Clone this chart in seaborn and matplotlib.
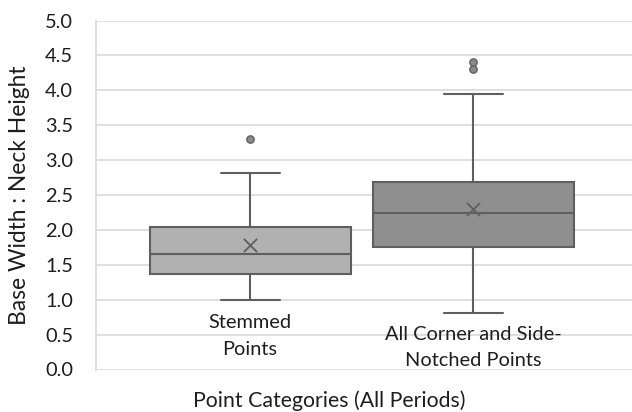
import matplotlib
matplotlib.use("Agg")
import matplotlib.pyplot as plt
import seaborn as sns
import pandas as pd

# Five-number summaries per point category
categories = ["Stemmed\nPoints", "All Corner and Side-\nNotched Points"]
whisker_low = [0.99, 0.81]
q1 = [1.37, 1.76]
median = [1.66, 2.24]
q3 = [2.04, 2.69]
whisker_high = [2.82, 3.94]
mean = [1.78, 2.30]

# Outlying values
outlier_cat = [0, 1, 1]
outlier_val = [3.30, 4.30, 4.40]

y_ticks = [0.0, 0.5, 1.0, 1.5, 2.0, 2.5, 3.0, 3.5, 4.0, 4.5, 5.0]

fill_colors = ["#b1b1b1", "#8f8f8f"]
edge_color = "#5f5f5f"
text_color = "#1e1e1e"

sns.set_theme(style="white")
plt.rcParams["font.family"] = ["Lato", "DejaVu Sans"]

fig = plt.figure(figsize=(6.32, 4.12), dpi=100)
ax = fig.add_axes([96 / 632, 1 - 369.5 / 412, 536 / 632, 349 / 412])

for yv in y_ticks:
    ax.axhline(yv, color="#d9d9d9", lw=1.2, zorder=0)

stats = []
for i in range(len(categories)):
    stats.append(dict(whislo=whisker_low[i], q1=q1[i], med=median[i],
                      q3=q3[i], whishi=whisker_high[i], fliers=[]))

bp = ax.bxp(stats, positions=[0, 1], widths=0.9, capwidths=0.265,
            showfliers=False, patch_artist=True,
            boxprops=dict(edgecolor=edge_color, linewidth=1.5),
            medianprops=dict(color=edge_color, linewidth=1.5),
            whiskerprops=dict(color=edge_color, linewidth=1.5),
            capprops=dict(color=edge_color, linewidth=1.5),
            zorder=2)
for patch, c in zip(bp["boxes"], fill_colors):
    patch.set_facecolor(c)

means_df = pd.DataFrame({"pos": [0, 1], "mean": mean})
sns.scatterplot(data=means_df, x="pos", y="mean", marker="x", s=90,
                color=edge_color, linewidth=1.3, ax=ax, zorder=3, legend=False)

out_df = pd.DataFrame({"pos": outlier_cat, "val": outlier_val})
sns.scatterplot(data=out_df, x="pos", y="val", marker="o", s=28,
                color="#8a8a8a", edgecolor="#606060", linewidth=1.0,
                ax=ax, zorder=3, legend=False)

# Category names sit inside the plot, under each box (one baseline per line)
label_baselines = [[0.595, 0.208], [0.423, 0.050]]
for i, name in enumerate(categories):
    for line, yb in zip(name.split("\n"), label_baselines[i]):
        ax.text(i, yb, line, ha="center", va="baseline", fontsize=14.4,
                color=text_color, zorder=4)

ax.set_xlim(-0.69, 1.71)
ax.set_ylim(0, 5.0)
ax.set_yticks(y_ticks)
ax.set_yticklabels([f"{v:.1f}" for v in y_ticks], fontsize=14.4, color=text_color)
ax.set_xticks([])
ax.tick_params(axis="y", length=0, pad=16.5)
ax.set_xlabel("")
ax.set_ylabel("Base Width : Neck Height", fontsize=16.4, color=text_color, labelpad=11)

for side in ["top", "right", "bottom"]:
    ax.spines[side].set_visible(False)
ax.spines["left"].set_color("#d9d9d9")
ax.spines["left"].set_linewidth(1.2)

fig.text(329 / 632, 1 - 407 / 412, "Point Categories (All Periods)",
         ha="center", va="baseline", fontsize=15.3, color=text_color)

fig.savefig("out.png", dpi=100)
